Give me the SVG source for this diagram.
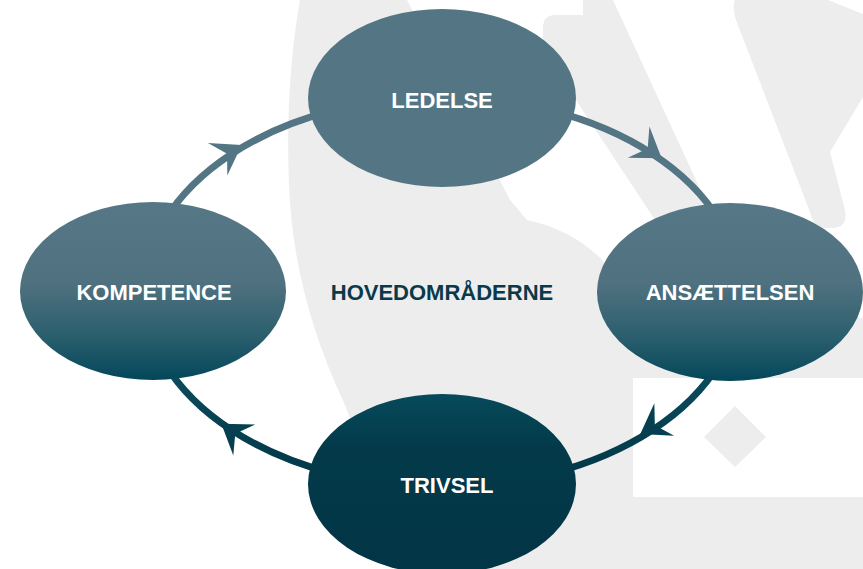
<svg xmlns="http://www.w3.org/2000/svg" width="863" height="569" viewBox="0 0 863 569">
  <defs>
    <style>
      .bg { fill: #ededed; }
      .label { font-family: "Liberation Sans", Arial, sans-serif; font-weight: bold; font-size: 22px; text-anchor: middle; fill: #ffffff; }
      .center-label { fill: #0a3a49; }
      .ring { fill: none; stroke: url(#ringGrad); stroke-width: 7; }
    </style>
    <linearGradient id="nodeGrad" x1="0" y1="0" x2="0" y2="1">
      <stop offset="0" stop-color="#567786"/>
      <stop offset="0.45" stop-color="#50717f"/>
      <stop offset="0.75" stop-color="#2b5f6e"/>
      <stop offset="1" stop-color="#03475a"/>
    </linearGradient>
    <linearGradient id="darkGrad" x1="0" y1="0" x2="0" y2="1">
      <stop offset="0" stop-color="#064a5b"/>
      <stop offset="0.3" stop-color="#033a4a"/>
      <stop offset="1" stop-color="#023545"/>
    </linearGradient>
    <linearGradient id="ringGrad" gradientUnits="userSpaceOnUse" x1="0" y1="200" x2="0" y2="470">
      <stop offset="0" stop-color="#537584"/>
      <stop offset="0.45" stop-color="#3a6676"/>
      <stop offset="0.67" stop-color="#0a4a5b"/>
      <stop offset="1" stop-color="#033949"/>
    </linearGradient>
    <!-- barbed arrowhead, tip at origin pointing along +x -->
    <path id="arrowHead" d="M2,0 L-26,-19 L-15,0 L-26,19 Z"/>
  </defs>

  <rect width="863" height="569" fill="#ffffff"/>

  <!-- light watermark shapes -->
  <g id="watermark">
    <path class="bg" d="M300,0 L407,0 L510,200 L527,220 C565,228 595,248 612,272 L700,300 L863,318 L863,378 L633,378 L633,497 L863,497 L863,569 L405,569 L345,405 C310,330 292,260 289,185 C286,110 292,45 300,0 Z"/>
    <path class="bg" d="M583,0 L613,0 L712,215 L655,220 L543,50 L543,28 Q543,15 556,15 L583,15 Z"/>
    <path class="bg" d="M735,0 L828,0 L863,14 L863,97 L830,152 L845,210 Q848,228 832,228 L824,228 Q813,226 810,212 L736,20 Q732,8 735,0 Z"/>
    <path class="bg" d="M735,406 L766,437 L735,467 L704,437 Z"/>
  </g>

  <!-- connectors: ring with barbed arrowheads -->
  <g id="connectors">
    <ellipse class="ring" cx="442" cy="292" rx="298" ry="195"/>
    <use href="#arrowHead" fill="#537584" transform="translate(660,157) rotate(34.7)"/>
    <use href="#arrowHead" fill="#053f50" transform="translate(642,433) rotate(148.7)"/>
    <use href="#arrowHead" fill="#053f50" transform="translate(223,425) rotate(-144.8)"/>
    <use href="#arrowHead" fill="#537584" transform="translate(240,146) rotate(-30.6)"/>
  </g>

  <g id="node-ledelse">
    <ellipse cx="442" cy="98" rx="134" ry="89" fill="#547684"/>
    <text class="label" x="442" y="108">LEDELSE</text>
  </g>

  <g id="node-ansaettelsen">
    <ellipse cx="730" cy="292" rx="133" ry="89" fill="url(#nodeGrad)"/>
    <text class="label" x="730" y="300">ANSÆTTELSEN</text>
  </g>

  <g id="node-trivsel">
    <ellipse cx="442" cy="484" rx="134" ry="90" fill="url(#darkGrad)"/>
    <text class="label" x="447" y="493">TRIVSEL</text>
  </g>

  <g id="node-kompetence">
    <ellipse cx="153" cy="291" rx="133" ry="89" fill="url(#nodeGrad)"/>
    <text class="label" x="154" y="300">KOMPETENCE</text>
  </g>

  <g id="node-center">
    <text class="label center-label" x="442" y="300">HOVEDOMRÅDERNE</text>
  </g>
</svg>
